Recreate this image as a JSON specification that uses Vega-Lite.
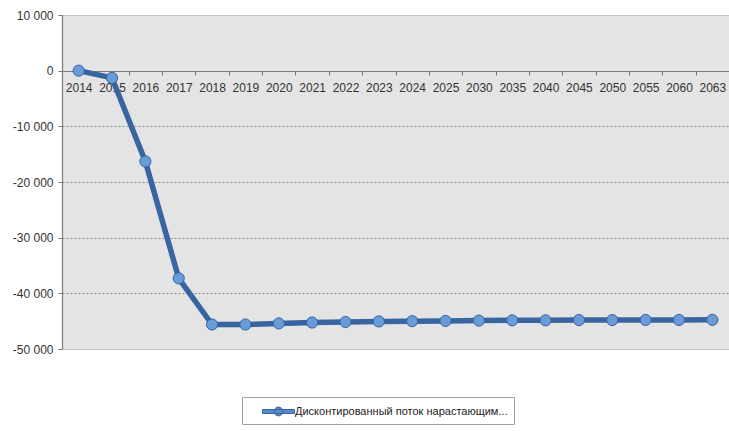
{
  "$schema": "https://vega.github.io/schema/vega-lite/v6.json",
  "width": 667,
  "height": 334,
  "autosize": {"type": "none"},
  "padding": {"left": 62, "top": 15, "right": 0, "bottom": 82},
  "background": "white",
  "config": {
    "font": "Liberation Sans",
    "view": {"fill": "#e4e4e4", "stroke": "#c4c4c4"}
  },
  "data": {
    "values": [
      {"year": "2014", "value": 0},
      {"year": "2015", "value": -1300},
      {"year": "2016", "value": -16300},
      {"year": "2017", "value": -37300},
      {"year": "2018", "value": -45600},
      {"year": "2019", "value": -45600},
      {"year": "2020", "value": -45400},
      {"year": "2021", "value": -45250},
      {"year": "2022", "value": -45150},
      {"year": "2023", "value": -45050},
      {"year": "2024", "value": -45000},
      {"year": "2025", "value": -44950},
      {"year": "2030", "value": -44900},
      {"year": "2035", "value": -44850},
      {"year": "2040", "value": -44850},
      {"year": "2045", "value": -44800},
      {"year": "2050", "value": -44800},
      {"year": "2055", "value": -44780},
      {"year": "2060", "value": -44780},
      {"year": "2063", "value": -44760}
    ]
  },
  "encoding": {
    "x": {
      "field": "year",
      "type": "ordinal",
      "sort": null,
      "title": null,
      "scale": {"type": "band", "paddingInner": 0, "paddingOuter": 0},
      "axis": {
        "orient": "bottom",
        "offset": -278,
        "tickBand": "extent",
        "labelAngle": 0,
        "labelFontSize": 12,
        "labelColor": "#333333",
        "labelPadding": 7,
        "tickSize": 4,
        "tickColor": "#7a7a7a",
        "domainColor": "#7a7a7a",
        "domainWidth": 1.2,
        "grid": false
      }
    },
    "y": {
      "field": "value",
      "type": "quantitative",
      "title": null,
      "scale": {"domain": [-50000, 10000], "nice": false, "zero": false},
      "axis": {
        "values": [-50000, -40000, -30000, -20000, -10000, 0, 10000],
        "labelExpr": "(datum.value < 0 ? '-' : '') + replace(format(abs(datum.value), ','), ',', ' ')",
        "labelFontSize": 12,
        "labelColor": "#333333",
        "labelPadding": 5,
        "tickSize": 4,
        "tickColor": "#7a7a7a",
        "domainColor": "#7a7a7a",
        "domainWidth": 1.2,
        "grid": true,
        "gridColor": {"condition": {"test": "datum.value === 10000 || datum.value === -50000", "value": "#c4c4c4"}, "value": "#8a8a8a"},
        "gridDash": {"condition": {"test": "datum.value === 10000 || datum.value === -50000", "value": []}, "value": [2, 2]},
        "gridWidth": 1
      }
    }
  },
  "layer": [
    {
      "mark": {"type": "line", "strokeWidth": 5.5, "strokeJoin": "round"},
      "encoding": {
        "color": {
          "datum": "Дисконтированный поток нарастающим...",
          "scale": {"range": ["#38649f"]},
          "legend": {
            "title": null,
            "orient": "none",
            "legendX": 180,
            "legendY": 382,
            "padding": 6,
            "strokeColor": "#a0a0a0",
            "fillColor": "white",
            "labelFontSize": 11,
            "labelColor": "#222222",
            "labelLimit": 0,
            "labelOffset": 30,
            "symbolSize": 256,
            "symbolType": "M0.75,-0.25 L4.75,-0.25 L4.75,0.25 L0.75,0.25 Z M2.2,0 A0.55,0.55 0 1,1 3.3,0 A0.55,0.55 0 1,1 2.2,0 Z",
            "encode": {
              "symbols": {
                "update": {
                  "fill": {"value": "#5a89c8"},
                  "stroke": {"value": "#38649f"},
                  "strokeWidth": {"value": 1}
                }
              }
            }
          }
        }
      }
    },
    {
      "mark": {"type": "point", "filled": true, "size": 125, "fill": "#6a9bd9", "stroke": "#35649f", "strokeWidth": 1, "opacity": 1}
    }
  ]
}
